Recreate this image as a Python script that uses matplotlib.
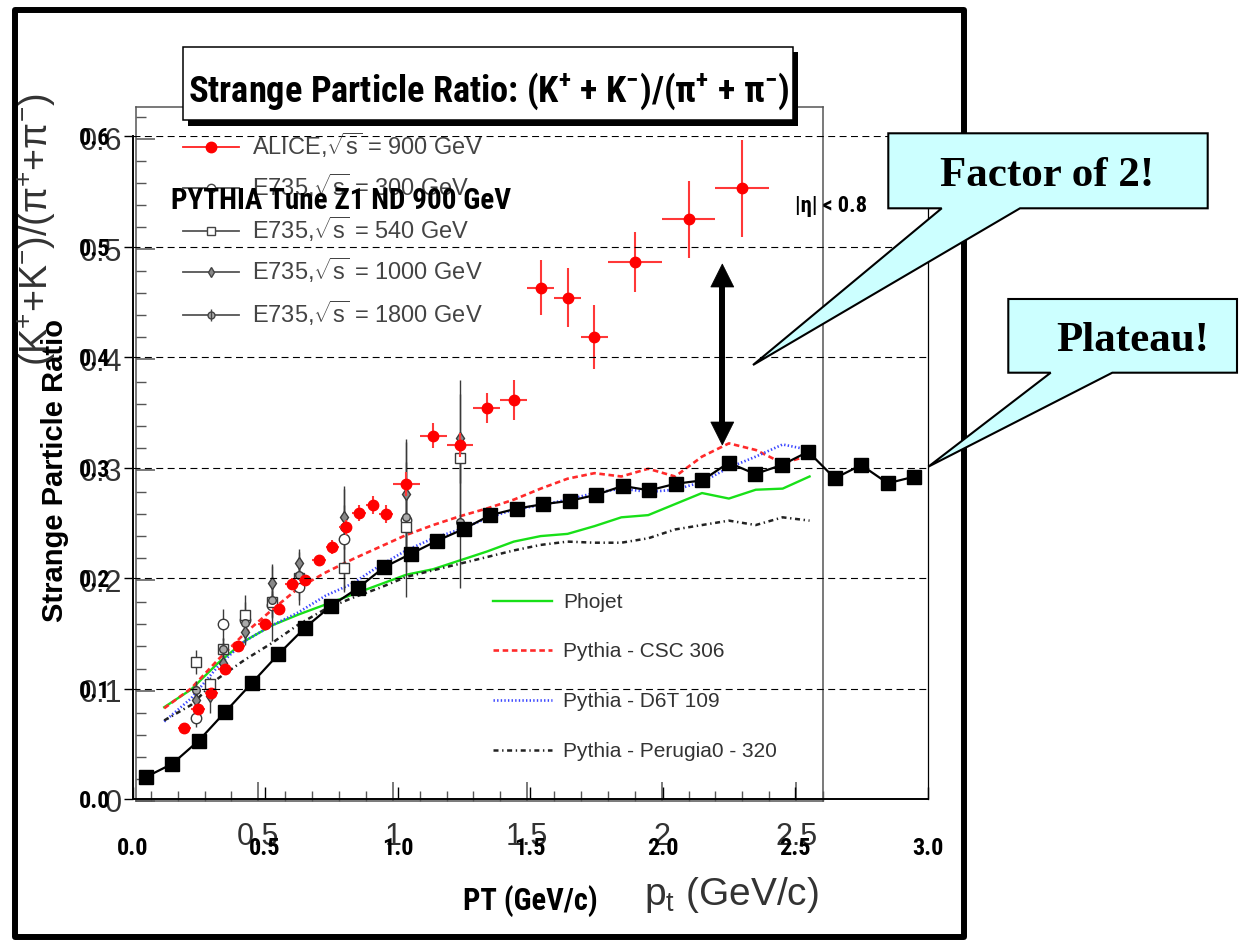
import matplotlib
matplotlib.use("Agg")
import matplotlib.pyplot as plt
import matplotlib.font_manager as fm
from matplotlib.font_manager import FontProperties
from matplotlib.patches import Rectangle, Polygon
from matplotlib.ticker import MultipleLocator

# ---------------------------------------------------------------- data
# ALICE K/pi ratio, sqrt(s) = 900 GeV
alice_pt = [0.225, 0.275, 0.325, 0.375, 0.425, 0.525, 0.575, 0.625, 0.675, 0.725,
            0.775, 0.825, 0.875, 0.925, 0.975, 1.05, 1.15, 1.25, 1.35, 1.45,
            1.55, 1.65, 1.75, 1.9, 2.1, 2.3]
alice_pt_err = [0.025] * 15 + [0.05] * 8 + [0.1] * 3
alice_ratio = [0.066, 0.083, 0.0975, 0.120, 0.140, 0.160, 0.174, 0.197, 0.200, 0.218,
               0.230, 0.248, 0.261, 0.268, 0.260, 0.287, 0.331, 0.3225, 0.356, 0.363,
               0.465, 0.456, 0.420, 0.4885, 0.527, 0.555]
alice_err = [0.004, 0.004, 0.004, 0.004, 0.004, 0.004, 0.004, 0.005, 0.005, 0.005,
             0.006, 0.007, 0.007, 0.008, 0.008, 0.011, 0.011, 0.011, 0.014, 0.018,
             0.025, 0.027, 0.029, 0.027, 0.035, 0.044]

# E735 measurements
e300_pt = [0.27, 0.37, 0.45, 0.55, 0.65, 0.82, 1.05]
e300_ratio = [0.075, 0.160, 0.164, 0.178, 0.194, 0.237, 0.255]
e300_err = [0.008, 0.014, 0.023, 0.012, 0.012, 0.048, 0.070]

e540_pt = [0.27, 0.32, 0.37, 0.45, 0.55, 0.65, 0.82, 1.05, 1.25]
e540_ratio = [0.126, 0.106, 0.138, 0.1685, 0.180, 0.2017, 0.211, 0.2485, 0.311]
e540_err = [0.011, 0.006, 0.010, 0.012, 0.035, 0.024, 0.020, 0.030, 0.070]

e1000_pt = [0.27, 0.32, 0.37, 0.45, 0.55, 0.65, 0.82, 1.05, 1.25]
e1000_ratio = [0.0915, 0.095, 0.125, 0.153, 0.1977, 0.216, 0.2575, 0.2778, 0.3285]
e1000_err = [0.008, 0.015, 0.010, 0.010, 0.015, 0.012, 0.025, 0.050, 0.040]

e1800_pt = [0.27, 0.37, 0.45, 0.55, 0.65, 0.82, 1.05, 1.25]
e1800_ratio = [0.1005, 0.138, 0.161, 0.182, 0.2047, 0.2485, 0.2575, 0.253]
e1800_err = [0.008, 0.010, 0.012, 0.015, 0.012, 0.020, 0.050, 0.060]

# generator predictions
mc_pt = [0.15, 0.25, 0.35, 0.45, 0.55, 0.65, 0.75, 0.85, 0.95, 1.05, 1.15, 1.25, 1.35,
         1.45, 1.55, 1.65, 1.75, 1.85, 1.95, 2.05, 2.15, 2.25, 2.35, 2.45, 2.55]
phojet = [0.085, 0.101, 0.125, 0.145, 0.159, 0.169, 0.178, 0.187, 0.196, 0.205, 0.210,
          0.218, 0.226, 0.235, 0.240, 0.242, 0.249, 0.257, 0.259, 0.269, 0.279, 0.274,
          0.282, 0.283, 0.294]
pythia_csc = [0.084, 0.102, 0.128, 0.152, 0.173, 0.193, 0.207, 0.219, 0.230, 0.241, 0.250,
              0.258, 0.265, 0.273, 0.283, 0.292, 0.297, 0.294, 0.301, 0.294, 0.312, 0.324,
              0.318, 0.306, 0.313]
pythia_d6t = [0.072, 0.093, 0.122, 0.145, 0.159, 0.171, 0.186, 0.197, 0.213, 0.227, 0.238,
              0.246, 0.256, 0.264, 0.268, 0.273, 0.279, 0.283, 0.280, 0.282, 0.289, 0.302,
              0.312, 0.323, 0.318]
pythia_perugia0 = [0.073, 0.087, 0.111, 0.128, 0.143, 0.160, 0.174, 0.184, 0.193, 0.203,
                   0.209, 0.215, 0.221, 0.227, 0.232, 0.235, 0.234, 0.234, 0.238, 0.246,
                   0.250, 0.254, 0.250, 0.257, 0.254]

# PYTHIA Tune Z1, non-diffractive, 900 GeV
z1_pt = [0.05, 0.15, 0.25, 0.35, 0.45, 0.55, 0.65, 0.75, 0.85, 0.95, 1.05, 1.15, 1.25,
         1.35, 1.45, 1.55, 1.65, 1.75, 1.85, 1.95, 2.05, 2.15, 2.25, 2.35, 2.45, 2.55,
         2.65, 2.75, 2.85, 2.95]
z1_ratio = [0.020, 0.032, 0.053, 0.079, 0.105, 0.131, 0.155, 0.175, 0.191, 0.210, 0.222,
            0.234, 0.2445, 0.257, 0.263, 0.267, 0.270, 0.2755, 0.2835, 0.2795, 0.2855,
            0.2885, 0.3045, 0.2943, 0.3024, 0.3145, 0.2904, 0.3024, 0.2859, 0.2919]

z1_xticks = [0.0, 0.5, 1.0, 1.5, 2.0, 2.5, 3.0]
z1_xticklabels = ["0.0", "0.5", "1.0", "1.5", "2.0", "2.5", "3.0"]
z1_yticks = [0.0, 0.1, 0.2, 0.3, 0.4, 0.5, 0.6]
z1_yticklabels = ["0.0", "0.1", "0.2", "0.3", "0.4", "0.5", "0.6"]
alice_xticks = [0.5, 1.0, 1.5, 2.0, 2.5]
alice_xticklabels = ["0.5", "1", "1.5", "2", "2.5"]
alice_yticks = [0.0, 0.1, 0.2, 0.3, 0.4, 0.5, 0.6]
alice_yticklabels = ["0", "0.1", "0.2", "0.3", "0.4", "0.5", "0.6"]

# ---------------------------------------------------------------- fonts
avail = {f.name for f in fm.fontManager.ttflist}
SANS = "Liberation Sans" if "Liberation Sans" in avail else "DejaVu Sans"
SERIF = "Liberation Serif" if "Liberation Serif" in avail else "DejaVu Serif"


def narrow_bold_font():
    """Find a condensed bold sans face; fall back to plain bold."""
    entries = fm.fontManager.ttflist
    for name in ("Liberation Sans Narrow", "Arial Narrow", "Roboto Condensed",
                 "Open Sans Condensed"):
        for f in entries:
            if f.name == name and f.weight in ("bold", 700) and f.style == "normal":
                return FontProperties(fname=f.fname), 1.0
    for f in entries:
        fn = f.fname.lower()
        if ("condensed" in fn or "narrow" in fn) and "bold" in fn \
                and "oblique" not in fn and "italic" not in fn:
            return FontProperties(fname=f.fname), 1.0
    return FontProperties(family=SANS, weight="bold"), 0.86


NB, NB_SCALE = narrow_bold_font()


def nb(size):
    fp = NB.copy()
    fp.set_size(size * NB_SCALE)
    return fp


plt.rcParams.update({
    "font.family": [SANS, "DejaVu Sans"],
    "mathtext.fontset": "custom",
    "mathtext.rm": SANS,
    "mathtext.it": SANS + ":italic",
    "mathtext.bf": SANS + ":bold",
    "mathtext.sf": SANS,
    "mathtext.default": "regular",
    "lines.scale_dashes": False,
})

W, H = 1241, 942
fig = plt.figure(figsize=(W / 100, H / 100), dpi=100, facecolor="white")


def box(left, top, right, bottom):
    return [left / W, 1 - bottom / H, (right - left) / W, (bottom - top) / H]


GRAY = "#555555"
TXT = "#333333"

# ---------------------------------------------------------------- ALICE / E735 / MC panel
ax_a = fig.add_axes(box(136, 106.7, 823, 801), zorder=1)
ax_a.set_xlim(0.045, 2.6)
ax_a.set_ylim(0, 0.629)
for s in ax_a.spines.values():
    s.set_color(GRAY)
    s.set_linewidth(1.1)
ax_a.set_xticks(alice_xticks, labels=alice_xticklabels)
ax_a.set_yticks(alice_yticks, labels=alice_yticklabels)
ax_a.xaxis.set_minor_locator(MultipleLocator(0.1))
ax_a.yaxis.set_minor_locator(MultipleLocator(0.02))
ax_a.tick_params(which="major", direction="in", length=14, width=1.1, color=GRAY,
                 labelsize=22, labelcolor=TXT)
ax_a.tick_params(which="minor", direction="in", length=7, width=1.0, color=GRAY)
ax_a.tick_params(axis="x", which="major", pad=15)
ax_a.tick_params(axis="y", which="major", pad=10)

ax_a.plot(mc_pt, phojet, color="#18e018", lw=1.7, zorder=3)
ax_a.plot(mc_pt, pythia_csc, color="#ff2a2a", lw=1.9, ls=(0, (4.0, 2.6)), zorder=3)
ax_a.plot(mc_pt, pythia_d6t, color="#3a46ff", lw=1.9, ls=(0, (1.0, 1.6)), zorder=3)
ax_a.plot(mc_pt, pythia_perugia0, color="#222222", lw=1.8,
          ls=(0, (3.6, 2.6, 1.0, 2.6)), zorder=3)

e735_style = dict(ecolor="#3a3a3a", elinewidth=1.0, capsize=0, ls="none", zorder=4)
ax_a.errorbar(e300_pt, e300_ratio, yerr=e300_err, fmt="o", ms=7.5, mfc="white",
              mec="#3a3a3a", mew=1.0, **e735_style)
ax_a.errorbar(e540_pt, e540_ratio, yerr=e540_err, fmt="s", ms=6.8, mfc="white",
              mec="#3a3a3a", mew=1.0, **e735_style)
ax_a.errorbar(e1000_pt, e1000_ratio, yerr=e1000_err, fmt="d", ms=6, mfc="#888888",
              mec="#3a3a3a", mew=1.0, **e735_style)
ax_a.errorbar(e1800_pt, e1800_ratio, yerr=e1800_err, fmt="o", ms=5.5, mfc="#aaaaaa",
              mec="#3a3a3a", mew=1.0, **e735_style)
ax_a.plot(e1800_pt, e1800_ratio, ls="none", marker="|", ms=9, mec="#3a3a3a", mew=1.0,
          zorder=4)

ax_a.errorbar(alice_pt, alice_ratio, xerr=alice_pt_err, yerr=alice_err, fmt="o",
              color="#ff0000", ms=7.5, ecolor="#ff3838", elinewidth=1.5, capsize=0,
              zorder=6)

# ---------------------------------------------------------------- Z1 panel
ax_z = fig.add_axes(box(132.5, 136.2, 927.5, 799.2), zorder=2)
ax_z.patch.set_alpha(0)
ax_z.set_xlim(0, 3.0)
ax_z.set_ylim(0, 0.6)
ax_z.spines["top"].set_visible(False)
ax_z.spines["left"].set_linewidth(1.4)
ax_z.spines["bottom"].set_linewidth(1.4)
ax_z.spines["right"].set_linewidth(0.9)
ax_z.set_xticks(z1_xticks, labels=z1_xticklabels)
ax_z.set_yticks(z1_yticks, labels=z1_yticklabels)
for lbl in ax_z.get_xticklabels() + ax_z.get_yticklabels():
    lbl.set_fontproperties(nb(17.5))
ax_z.tick_params(axis="x", direction="in", length=8.5, width=1.0, pad=27)
ax_z.tick_params(axis="y", direction="out", length=6.5, width=1.0, pad=9.5)
ax_z.yaxis.grid(True, color="black", lw=0.8, ls=(0, (5.0, 3.2)))
ax_z.set_axisbelow(True)
ax_z.plot(z1_pt, z1_ratio, color="black", lw=1.6, marker="s", ms=9.6, zorder=5)

# ---------------------------------------------------------------- annotation layer
ov = fig.add_axes([0, 0, 1, 1], zorder=5)
ov.set_xlim(0, W)
ov.set_ylim(H, 0)
ov.axis("off")

# outer frame
ov.add_patch(Rectangle((15, 10), 949, 927, fill=False, lw=4.3, ec="black", zorder=1,
                       joinstyle="round"))

# title box with drop shadow
ov.add_patch(Rectangle((187.7, 52.2), 610, 73.3, fc="black", ec="black", lw=0, zorder=2))
ov.add_patch(Rectangle((182.7, 46.7), 610, 73.3, fc="white", ec="black", lw=1.1, zorder=3))
ov.text(188.3, 101.7, "Strange Particle Ratio: (K$^{+}$ + K$^{-}$)/(π$^{+}$ + π$^{-}$)",
        fontproperties=nb(26.2), ha="left", va="baseline", zorder=4)

ov.text(170.7, 209.3, "PYTHIA Tune Z1 ND 900 GeV", fontproperties=nb(21),
        ha="left", va="baseline", zorder=4)
ov.text(795, 211.7, "|η| < 0.8", fontproperties=nb(16.2),
        ha="left", va="baseline", zorder=4)

# axis titles
ov.text(55, 470, "Strange Particle Ratio", fontfamily=SANS, fontweight="bold",
        fontsize=21, rotation=90, ha="center", va="center", zorder=4)
ov.text(37, 230, "(K$^{+}$+K$^{-}$)/(π$^{+}$+π$^{-}$)", fontfamily=SANS, fontsize=27,
        color=TXT, rotation=90, ha="center", va="center", zorder=4)
ov.text(530, 910, "PT (GeV/c)", fontproperties=nb(22),
        ha="center", va="baseline", zorder=4)
ov.text(731, 905, "p$_{t}$ (GeV/c)", fontfamily=SANS, fontsize=28, color=TXT,
        ha="center", va="baseline", zorder=4)

# data legend (top left)
leg_rows = [146.7, 188.3, 230.7, 272.3, 315.0]
leg_text = ["ALICE,$\\sqrt{s}$ = 900 GeV", "E735,$\\sqrt{s}$ = 300 GeV",
            "E735,$\\sqrt{s}$ = 540 GeV", "E735,$\\sqrt{s}$ = 1000 GeV",
            "E735,$\\sqrt{s}$ = 1800 GeV"]
leg_marker = [dict(marker="o", ms=7.5, mfc="#ff0000", mec="#ff0000"),
              dict(marker="o", ms=6, mfc="white", mec="#444444"),
              dict(marker="s", ms=6, mfc="white", mec="#444444"),
              dict(marker="d", ms=5.5, mfc="#888888", mec="#444444"),
              dict(marker="o", ms=5, mfc="#aaaaaa", mec="#444444")]
leg_color = ["#ff2020", "#555555", "#555555", "#555555", "#555555"]
for y, t, m, c in zip(leg_rows, leg_text, leg_marker, leg_color):
    ov.plot([183.3, 239.3], [y, y], color=c, lw=1.3, zorder=3)
    ov.plot([211.3], [y], ls="none", mew=1.0, zorder=3, **m)
    ov.text(252.3, y + 8, t, fontfamily=SANS, fontsize=17, color="#444444",
            ha="left", va="baseline", zorder=3)
ov.plot([211.3], [leg_rows[4]], ls="none", marker="|", ms=8, mec="#444444", mew=1.0,
        zorder=3)

# generator legend
mc_rows = [601, 650, 700, 750]
mc_text = ["Phojet", "Pythia - CSC 306", "Pythia - D6T 109", "Pythia - Perugia0 - 320"]
mc_style = [dict(color="#18e018", lw=1.7, ls="-"),
            dict(color="#ff2a2a", lw=1.9, ls=(0, (4.0, 2.6))),
            dict(color="#3a46ff", lw=1.9, ls=(0, (1.0, 1.6))),
            dict(color="#222222", lw=1.8, ls=(0, (3.6, 2.6, 1.0, 2.6)))]
for y, t, st in zip(mc_rows, mc_text, mc_style):
    ov.plot([493.3, 551.7], [y, y], zorder=3, **st)
    ov.text(563.3, y + 6.7, t, fontfamily=SANS, fontsize=15, color=TXT,
            ha="left", va="baseline", zorder=3)

# double-headed arrow between data and Z1
ax_x, top, bot, hl, hw = 722.3, 264.0, 445.0, 23.0, 11.5
ov.plot([ax_x, ax_x], [top + hl - 2, bot - hl + 2], color="black", lw=4.3,
        solid_capstyle="butt", zorder=6)
ov.add_patch(Polygon([(ax_x, top), (ax_x - hw, top + hl), (ax_x + hw, top + hl)],
                     closed=True, fc="black", ec="black", lw=0.5, zorder=6))
ov.add_patch(Polygon([(ax_x, bot), (ax_x - hw, bot - hl), (ax_x + hw, bot - hl)],
                     closed=True, fc="black", ec="black", lw=0.5, zorder=6))

# callouts
callout_fc = "#ccffff"
factor_shape = [(888.3, 133.3), (1207.7, 133.3), (1207.7, 208.3), (1020.0, 208.3),
                (753.0, 365.0), (941.7, 208.3), (888.3, 208.3)]
plateau_shape = [(1008.3, 299.0), (1237.0, 299.0), (1237.0, 372.7), (1112.3, 372.7),
                 (928.3, 466.7), (1050.7, 372.7), (1008.3, 372.7)]
for shape in (factor_shape, plateau_shape):
    ov.add_patch(Polygon(shape, closed=True, fc=callout_fc, ec="black", lw=1.5,
                         joinstyle="miter", zorder=7))
ov.text(1046.7, 186.0, "Factor of 2!", fontfamily=SERIF, fontweight="bold", fontsize=31,
        ha="center", va="baseline", zorder=8)
ov.text(1132.5, 350.7, "Plateau!", fontfamily=SERIF, fontweight="bold", fontsize=31,
        ha="center", va="baseline", zorder=8)

fig.savefig("out.png", dpi=100, facecolor="white")
